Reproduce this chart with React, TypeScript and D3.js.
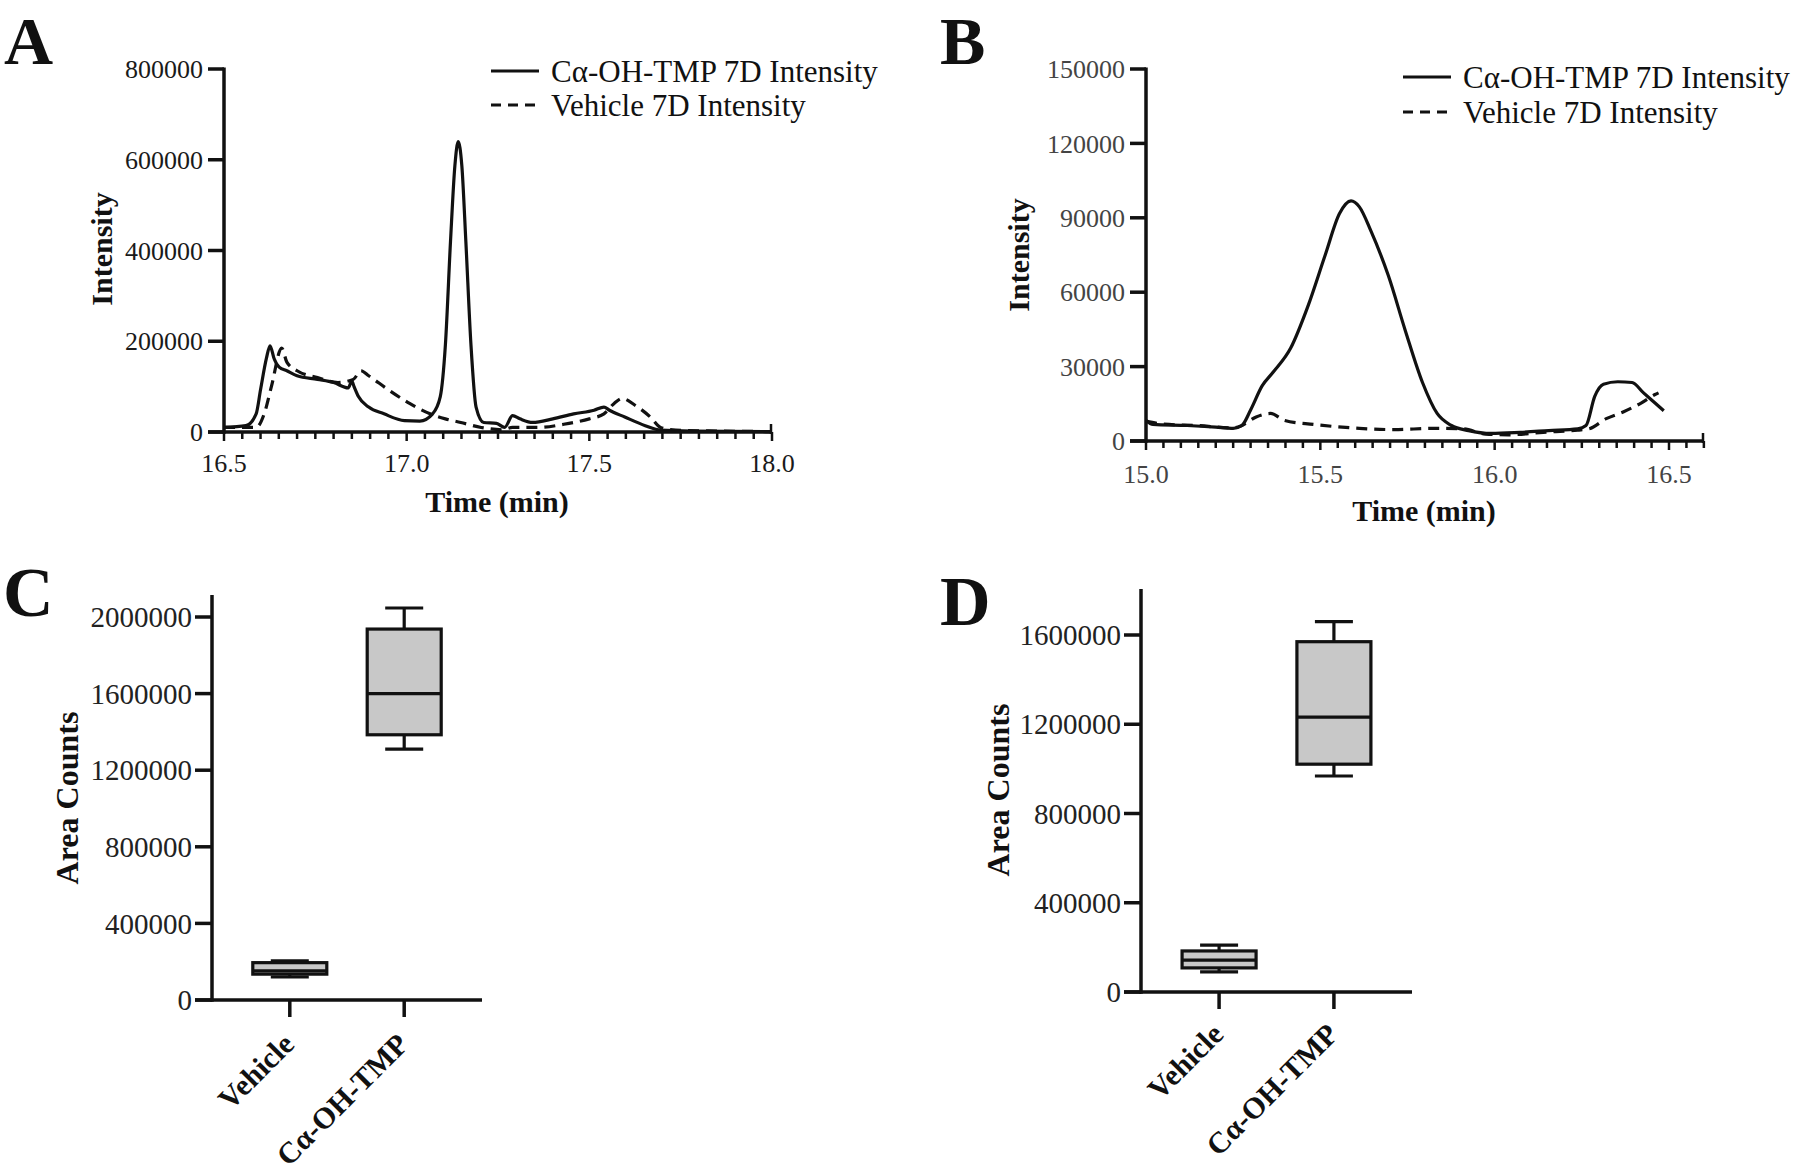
import React from "react";
import * as d3 from "d3";

// ---------- Panel A data ----------
const timeA_drug = [16.5, 16.56, 16.588, 16.6, 16.616, 16.626, 16.637, 16.651, 16.672, 16.7, 16.756, 16.8, 16.84, 16.85, 16.856, 16.868, 16.896, 16.938, 16.994, 17.036, 17.071, 17.092, 17.106, 17.12, 17.132, 17.141, 17.151, 17.162, 17.176, 17.19, 17.211, 17.246, 17.268, 17.29, 17.31, 17.345, 17.4, 17.457, 17.513, 17.54, 17.555, 17.597, 17.653, 17.695, 17.78, 18.0];
const intensityA_drug = [10000, 14000, 40000, 93000, 162000, 190000, 162000, 143000, 135000, 124000, 116000, 109000, 97000, 112000, 100000, 78000, 55000, 40000, 25000, 24000, 40000, 78000, 192000, 420000, 587000, 640000, 587000, 420000, 192000, 55000, 21000, 19000, 10000, 36000, 29000, 21000, 29000, 40000, 48000, 55000, 48000, 33000, 14000, 4000, 2000, 1000];
const timeA_veh = [16.5, 16.588, 16.61, 16.63, 16.658, 16.672, 16.7, 16.756, 16.812, 16.854, 16.875, 16.896, 16.95, 17.008, 17.064, 17.106, 17.148, 17.204, 17.26, 17.29, 17.36, 17.43, 17.5, 17.54, 17.568, 17.59, 17.625, 17.667, 17.695, 17.737, 17.85, 18.0];
const intensityA_veh = [10000, 10000, 40000, 101000, 185000, 154000, 135000, 120000, 109000, 116000, 135000, 124000, 93000, 63000, 40000, 29000, 21000, 10000, 5000, 10000, 10000, 17000, 29000, 40000, 63000, 74000, 59000, 33000, 10000, 4000, 2000, 1000];
const xTicksA = [16.5, 17.0, 17.5, 18.0];
const yTicksA = [0, 200000, 400000, 600000, 800000];

// ---------- Panel B data ----------
const timeB_drug = [15.0, 15.02, 15.118, 15.2, 15.25, 15.275, 15.3, 15.333, 15.365, 15.415, 15.464, 15.514, 15.555, 15.588, 15.612, 15.645, 15.695, 15.744, 15.793, 15.835, 15.876, 15.925, 15.99, 16.073, 16.155, 16.238, 16.262, 16.287, 16.312, 16.353, 16.394, 16.427, 16.46, 16.485];
const intensityB_drug = [8300, 6700, 6250, 5600, 5100, 6250, 12500, 22200, 27800, 37500, 54200, 75000, 91700, 96800, 94400, 84700, 66700, 44400, 23600, 11100, 6250, 4200, 3050, 3500, 4200, 4900, 6250, 18000, 22900, 23900, 23600, 19400, 15300, 12200];
const timeB_veh = [15.0, 15.05, 15.15, 15.25, 15.275, 15.316, 15.357, 15.398, 15.48, 15.612, 15.711, 15.826, 15.908, 15.974, 16.04, 16.139, 16.238, 16.27, 16.32, 16.37, 16.42, 16.46, 16.47];
const intensityB_veh = [8000, 6800, 6200, 5300, 6250, 9700, 11100, 8300, 6700, 5100, 4600, 5100, 4900, 2800, 2500, 3500, 4400, 4900, 9000, 11800, 15300, 18750, 19400];
const xTicksB = [15.0, 15.5, 16.0, 16.5];
const yTicksB = [0, 30000, 60000, 90000, 120000, 150000];

// ---------- Box plots ----------
const groups = ["Vehicle", "Cα-OH-TMP"];
const boxC_min = [120000, 1310000];
const boxC_q1 = [135000, 1385000];
const boxC_median = [152000, 1600000];
const boxC_q3 = [195000, 1937000];
const boxC_max = [205000, 2047000];
const yTicksC = [0, 400000, 800000, 1200000, 1600000, 2000000];

const boxD_min = [90000, 968000];
const boxD_q1 = [108000, 1021000];
const boxD_median = [143000, 1232000];
const boxD_q3 = [184000, 1570000];
const boxD_max = [210000, 1660000];
const yTicksD = [0, 400000, 800000, 1200000, 1600000];

const legendLabels = ["Cα-OH-TMP 7D Intensity", "Vehicle 7D Intensity"];

const SERIF = "'Liberation Serif', 'Times New Roman', serif";
const AX = 3.5;
const LW = 3.2;
const DASH = "11,7";

function Chromatogram(props: any) {
  const { x0, x1, xEnd, y0, y1, xDom, yMax, xTicks, yTicks, t1, v1, t2, v2, tickColor, xLabelY, legX, legY, legGap, titleY, ytitleX, ytitleY, minorStep } = props;
  const x = d3.scaleLinear().domain(xDom).range([x0, x1]);
  const y = d3.scaleLinear().domain([0, yMax]).range([y0, y1]);
  const line = d3.line<[number, number]>().x((d) => x(d[0])).y((d) => y(d[1])).curve(d3.curveMonotoneX);
  const d1 = line(t1.map((t: number, i: number) => [t, v1[i]]));
  const d2 = line(t2.map((t: number, i: number) => [t, v2[i]]));
  const xMax = x.invert(xEnd);
  const minor = d3.range(xDom[0], xMax + 1e-6, minorStep);
  return (
    <g>
      <path d={d2 || ""} fill="none" stroke="#111" strokeWidth={LW} strokeDasharray={DASH} />
      <path d={d1 || ""} fill="none" stroke="#111" strokeWidth={LW} />
      {/* axes */}
      <line x1={x0} x2={x0} y1={y1 - 1.5} y2={y0 + AX / 2} stroke="#111" strokeWidth={AX} />
      <line x1={x0 - 16} x2={xEnd} y1={y0} y2={y0} stroke="#111" strokeWidth={AX} />
      {yTicks.map((v: number) => (
        <g key={"y" + v}>
          <line x1={x0 - 16} x2={x0} y1={y(v)} y2={y(v)} stroke="#111" strokeWidth={AX} />
          <text x={x0 - 21} y={y(v)} dy="0.35em" textAnchor="end" fontFamily={SERIF} fontSize={26} fill={tickColor}>{v}</text>
        </g>
      ))}
      {minor.map((t: number, i: number) => (
        <line key={"m" + i} x1={x(t)} x2={x(t)} y1={y0} y2={y0 + (i % 10 === 0 ? 9 : 7)} stroke="#111" strokeWidth={2.5} />
      ))}
      <line x1={xEnd - 1} x2={xEnd - 1} y1={y0 - 8} y2={y0 + 2} stroke="#111" strokeWidth={2.5} />
      {xTicks.map((t: number) => (
        <text key={"x" + t} x={x(t)} y={xLabelY} textAnchor="middle" fontFamily={SERIF} fontSize={26} fill={tickColor}>{t.toFixed(1)}</text>
      ))}
      <text x={(x0 + xEnd) / 2 - 1} y={titleY} textAnchor="middle" fontFamily={SERIF} fontWeight="bold" fontSize={30} fill="#111">Time (min)</text>
      <text transform={`translate(${ytitleX},${ytitleY}) rotate(-90)`} textAnchor="middle" fontFamily={SERIF} fontWeight="bold" fontSize={30} fill="#111">Intensity</text>
      {/* legend */}
      {legendLabels.map((lab, i) => (
        <g key={lab}>
          <line x1={legX} x2={legX + 48} y1={legY + i * legGap} y2={legY + i * legGap} stroke="#111" strokeWidth={LW} strokeDasharray={i === 1 ? "10,7" : undefined} />
          <text x={legX + 60} y={legY + i * legGap} dy="0.35em" fontFamily={SERIF} fontSize={31} fill="#111">{lab}</text>
        </g>
      ))}
    </g>
  );
}

function BoxPanel(props: any) {
  const { x0, xEnd, y0, yTopPx, yMax, yMaxPx, yTicks, mins, q1s, meds, q3s, maxs, labelDY } = props;
  const y = d3.scaleLinear().domain([0, yMax]).range([y0, yMaxPx]);
  const x = d3.scalePoint<string>().domain(groups).range([x0, xEnd]).padding(0.68);
  const bw = 74;
  const cw = 38;
  return (
    <g>
      {groups.map((g, i) => {
        const cx = x(g) as number;
        return (
          <g key={g}>
            <line x1={cx} x2={cx} y1={y(maxs[i])} y2={y(q3s[i])} stroke="#111" strokeWidth={3.2} />
            <line x1={cx} x2={cx} y1={y(q1s[i])} y2={y(mins[i])} stroke="#111" strokeWidth={3.2} />
            <line x1={cx - cw / 2} x2={cx + cw / 2} y1={y(maxs[i])} y2={y(maxs[i])} stroke="#111" strokeWidth={3.2} />
            <line x1={cx - cw / 2} x2={cx + cw / 2} y1={y(mins[i])} y2={y(mins[i])} stroke="#111" strokeWidth={3.2} />
            <rect x={cx - bw / 2} y={y(q3s[i])} width={bw} height={y(q1s[i]) - y(q3s[i])} fill="#c8c8c8" stroke="#111" strokeWidth={3.2} />
            <line x1={cx - bw / 2} x2={cx + bw / 2} y1={y(meds[i])} y2={y(meds[i])} stroke="#111" strokeWidth={3.2} />
            <line x1={cx} x2={cx} y1={y0} y2={y0 + 17} stroke="#111" strokeWidth={AX} />
            <text transform={`translate(${cx + 6},${y0 + labelDY}) rotate(-45)`} textAnchor="end" fontFamily={SERIF} fontWeight="bold" fontSize={30} fill="#111">{g}</text>
          </g>
        );
      })}
      <line x1={x0} x2={x0} y1={yTopPx} y2={y0 + AX / 2} stroke="#111" strokeWidth={AX} />
      <line x1={x0 - 17} x2={xEnd} y1={y0} y2={y0} stroke="#111" strokeWidth={AX} />
      {yTicks.map((v: number) => (
        <g key={"y" + v}>
          <line x1={x0 - 17} x2={x0} y1={y(v)} y2={y(v)} stroke="#111" strokeWidth={AX} />
          <text x={x0 - 20} y={y(v)} dy="0.35em" textAnchor="end" fontFamily={SERIF} fontSize={29} fill="#222">{v}</text>
        </g>
      ))}
      <text transform={`translate(${props.ytitleX},${props.ytitleY}) rotate(-90)`} textAnchor="middle" fontFamily={SERIF} fontWeight="bold" fontSize={32} fill="#111">Area Counts</text>
    </g>
  );
}

export default function App() {
  return (
    <div style={{ position: "absolute", left: 0, top: 0, width: 1800, height: 1176, background: "#fff" }}>
      <svg width={1800} height={1176} viewBox="0 0 1800 1176" style={{ display: "block" }}>
        <rect width={1800} height={1176} fill="#fff" />
        <text x={4} y={64} fontFamily={SERIF} fontWeight="bold" fontSize={68} fill="#111">A</text>
        <text x={940} y={64} fontFamily={SERIF} fontWeight="bold" fontSize={68} fill="#111">B</text>
        <text x={3} y={616} fontFamily={SERIF} fontWeight="bold" fontSize={70} fill="#111">C</text>
        <text x={940} y={625} fontFamily={SERIF} fontWeight="bold" fontSize={70} fill="#111">D</text>
        <Chromatogram
          x0={224} x1={772} xEnd={772} y0={432} y1={69}
          xDom={[16.5, 18.0]} yMax={800000} xTicks={xTicksA} yTicks={yTicksA}
          t1={timeA_drug} v1={intensityA_drug} t2={timeA_veh} v2={intensityA_veh}
          tickColor="#1a1a1a" xLabelY={472} legX={491} legY={71} legGap={34}
          titleY={512} ytitleX={112} ytitleY={249} minorStep={0.05}
        />
        <Chromatogram
          x0={1146} x1={1669} xEnd={1704} y0={441} y1={69}
          xDom={[15.0, 16.5]} yMax={150000} xTicks={xTicksB} yTicks={yTicksB}
          t1={timeB_drug} v1={intensityB_drug} t2={timeB_veh} v2={intensityB_veh}
          tickColor="#444" xLabelY={483} legX={1403} legY={77} legGap={35}
          titleY={521} ytitleX={1029} ytitleY={255} minorStep={0.05}
        />
        <BoxPanel
          x0={212} xEnd={482} y0={1000} yTopPx={595} yMax={2000000} yMaxPx={617}
          yTicks={yTicksC} mins={boxC_min} q1s={boxC_q1} meds={boxC_median} q3s={boxC_q3} maxs={boxC_max}
          labelDY={46} ytitleX={78} ytitleY={798}
        />
        <BoxPanel
          x0={1141} xEnd={1412} y0={992} yTopPx={589} yMax={1600000} yMaxPx={635}
          yTicks={yTicksD} mins={boxD_min} q1s={boxD_q1} meds={boxD_median} q3s={boxD_q3} maxs={boxD_max}
          labelDY={44} ytitleX={1009} ytitleY={790}
        />
      </svg>
    </div>
  );
}
